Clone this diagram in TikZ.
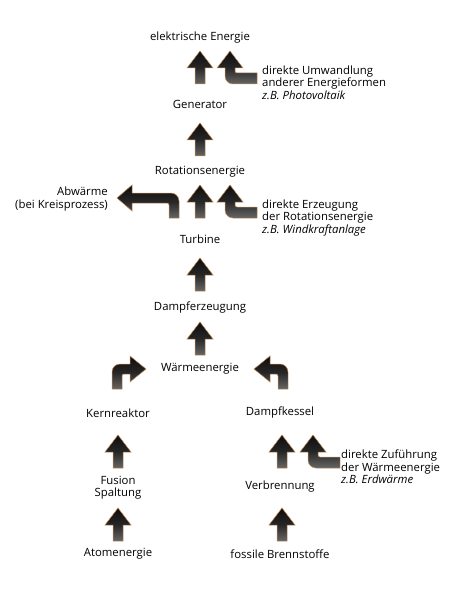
\documentclass[tikz,border=0pt]{standalone}
\usepackage{fontspec}
\setmainfont{Open Sans}
\usetikzlibrary{positioning}
\definecolor{rim}{RGB}{196,140,84}

\begin{document}
\begin{tikzpicture}[
  x=1bp, y=-1bp,
  lbl/.style={font=\fontsize{11.4}{12.2}\selectfont, inner sep=0pt, align=center},
  note/.style={lbl, align=left, anchor=north west},
  blk/.style={draw=rim, line width=0.5bp, top color=black!95, bottom color=black!60, middle color=black!85},
  pics/upblk/.style={code={
    \path[blk] (0,0) -- (13,17) -- (5,17) -- (5,33) -- (-5,33) -- (-5,17) -- (-13,17) -- cycle;}},
  pics/sideblk/.style={code={
    \path[blk] (0,0) -- (13,17) -- (5,17) [rounded corners=2] -- (5,22) [sharp corners] -- (27,22) -- (27,33)
      [rounded corners=8] -- (-5,33) [sharp corners] -- (-5,17) -- (-13,17) -- cycle;}},
  pics/turnblk/.style={code={
    \path[blk] (0,0) -- (-16,-13) -- (-16,-5) [rounded corners=8] -- (-34,-5) [sharp corners] -- (-34,20)
      -- (-24,20) [rounded corners=2] -- (-24,5) [sharp corners] -- (-16,5) -- (-16,13) -- cycle;}},
  pics/wasteblk/.style={code={
    \path[blk] (0,0) -- (15,-13) -- (15,-5) [rounded corners=8] -- (62,-5) [sharp corners] -- (62,20)
      -- (52,20) [rounded corners=2] -- (52,5) [sharp corners] -- (15,5) -- (15,13) -- cycle;}}
]
\useasboundingbox (0,0) rectangle (458,600);

% main chain
\node[lbl] (elek) at (200,38) {elektrische Energie};
\node[lbl] (gen) at (200,104) {Generator};
\node[lbl] (rot) at (200,172) {Rotationsenergie};
\node[lbl] (turb) at (200,239) {Turbine};
\node[lbl] (dampf) at (200,308) {Dampferzeugung};
\node[lbl] (waerme) at (200,369) {Wärmeenergie};

% two branches
\node[lbl] (kern) at (118,413) {Kernreaktor};
\node[lbl] (kessel) at (280,413) {Dampfkessel};
\node[lbl] (fusion) at (118,488) {Fusion\\Spaltung};
\node[lbl] (verbr) at (280,487) {Verbrennung};
\node[lbl] (atom) at (118,554) {Atomenergie};
\node[lbl] (fossil) at (280,554) {fossile Brennstoffe};

% side notes
\node[lbl, align=right, anchor=east] (abw) at (108,199) {Abwärme\\(bei Kreisprozess)};
\node[note] (pv) at (262,66) {direkte Umwandlung\\anderer Energieformen\\\textit{z.B. Photovoltaik}};
\node[note] (wind) at (262,200) {direkte Erzeugung\\der Rotationsenergie\\\textit{z.B. Windkraftanlage}};
\node[note] (erd) at (341,450) {direkte Zuführung\\der Wärmeenergie\\\textit{z.B. Erdwärme}};

% block arrows
\pic at (200,51) {upblk};
\pic at (230,51) {sideblk};
\pic at (200,123) {upblk};
\pic at (200,185) {upblk};
\pic at (230,185) {sideblk};
\pic at (117,198) {wasteblk};
\pic at (200,258) {upblk};
\pic at (200,322) {upblk};
\pic at (146,369) {turnblk};
\pic[xscale=-1] at (254,369) {turnblk};
\pic at (118,435) {upblk};
\pic at (118,508) {upblk};
\pic at (282,435) {upblk};
\pic at (313,435) {sideblk};
\pic at (282,508) {upblk};
\end{tikzpicture}
\end{document}
